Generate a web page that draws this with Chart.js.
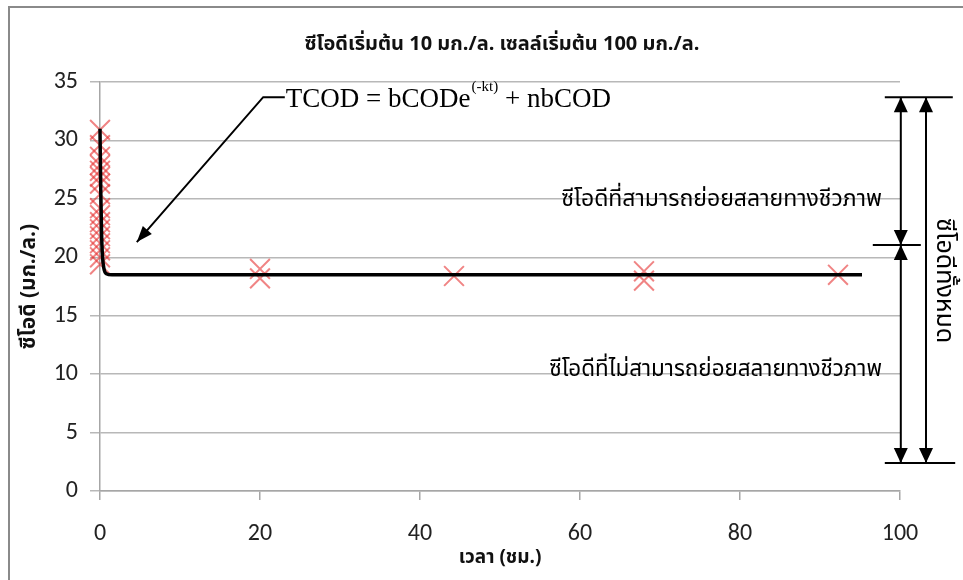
<!DOCTYPE html>
<html>
<head>
<meta charset="utf-8">
<title>COD</title>
<script src="https://cdn.jsdelivr.net/npm/chart.js@4.4.0/dist/chart.umd.min.js"></script>
<style>
  html, body { margin: 0; padding: 0; background: #fff; }
  canvas { display: block; }
</style>
</head>
<body>
<canvas id="chart" width="963" height="580"></canvas>
<script>
// measured COD (mg/L) vs time (h)
const obsTime = [0, 0, 0, 0, 0, 0, 0, 0, 0, 0, 0, 0, 0, 0, 0, 0, 0, 20, 20, 44.25, 68, 68, 92.25];
const obsCod = [30.9, 29.6, 28.6, 27.9, 27.4, 26.9, 26.3, 25.4, 24.2, 23.6, 23.0, 22.4, 21.8, 21.2, 20.6, 20.0, 19.4, 19.0, 18.2, 18.4, 18.8, 18.0, 18.5];

// fitted curve TCOD = bCODe^(-kt) + nbCOD
const fitTime = [0, 0.05, 0.1, 0.2, 0.3, 0.5, 0.8, 1.5, 95.25];
const fitCod = [31, 28, 25.5, 22, 20.2, 19, 18.6, 18.5, 18.5];

const xTicks = [0, 20, 40, 60, 80, 100];
const yTicks = [0, 5, 10, 15, 20, 25, 30, 35];

const chartTitle = "ซีโอดีเริ่มต้น 10 มก./ล. เซลล์เริ่มต้น 100 มก./ล.";

const thaiFont = "Tahoma, 'Noto Sans Thai', 'Noto Sans', 'DejaVu Sans', sans-serif";
const tickFont = "Carlito, Lato, 'Open Sans', sans-serif";

// annotation positions in data units
const eqStart = { x: 23.1, y: 33.7 };
const eqElbow = { x: 20.4, y: 33.7 };
const eqTip = { x: 4.6, y: 21.3 };
const bracketTop = 33.7;
const bracketMid = 21.05;
const bracketBottom = 2.4;

const toPts = (xs, ys) => xs.map((x, i) => ({ x: x, y: ys[i] }));

function arrowHead(ctx, tx, ty, fx, fy, len, half) {
  const a = Math.atan2(ty - fy, tx - fx);
  ctx.beginPath();
  ctx.moveTo(tx, ty);
  ctx.lineTo(tx - len * Math.cos(a) + half * Math.sin(a), ty - len * Math.sin(a) - half * Math.cos(a));
  ctx.lineTo(tx - len * Math.cos(a) - half * Math.sin(a), ty - len * Math.sin(a) + half * Math.cos(a));
  ctx.closePath();
  ctx.fill();
}

const notes = {
  id: "notes",
  beforeDraw(chart) {
    const c = chart.ctx;
    c.save();
    c.fillStyle = "#fff";
    c.fillRect(0, 0, chart.width, chart.height);
    // frame
    c.strokeStyle = "#8a8a8a";
    c.lineWidth = 2;
    c.beginPath();
    c.moveTo(9, chart.height);
    c.lineTo(9, 7);
    c.lineTo(chart.width, 7);
    c.stroke();
    // title, sits a bit right of the plot centre like the original
    c.fillStyle = "#111";
    c.font = "bold 20px " + thaiFont;
    c.textAlign = "center";
    c.textBaseline = "middle";
    c.fillText(chartTitle, 502, 46);
    c.restore();
  },
  afterDatasetsDraw(chart) {
    const c = chart.ctx;
    const xs = chart.scales.x, ys = chart.scales.y;
    const px = (v) => xs.getPixelForValue(v);
    const py = (v) => ys.getPixelForValue(v);
    c.save();
    c.strokeStyle = "#000";
    c.fillStyle = "#000";

    // equation with pointer
    c.lineWidth = 2;
    c.beginPath();
    c.moveTo(px(eqStart.x), py(eqStart.y));
    c.lineTo(px(eqElbow.x), py(eqElbow.y));
    c.lineTo(px(eqTip.x), py(eqTip.y));
    c.stroke();
    arrowHead(c, px(eqTip.x), py(eqTip.y), px(eqElbow.x), py(eqElbow.y), 16, 6);

    let tx = px(eqStart.x) + 1;
    const base = py(eqStart.y) + 10;
    c.textBaseline = "alphabetic";
    c.textAlign = "left";
    c.font = "27px 'Liberation Serif', 'Times New Roman', serif";
    let s = "TCOD = bCODe";
    c.fillText(s, tx, base);
    tx += c.measureText(s).width + 1;
    c.font = "15px 'Liberation Serif', 'Times New Roman', serif";
    s = "(-kt)";
    c.fillText(s, tx, base - 16);
    tx += c.measureText(s).width;
    c.font = "27px 'Liberation Serif', 'Times New Roman', serif";
    c.fillText(" + nbCOD", tx, base);

    // region labels
    c.font = "23px " + thaiFont;
    c.textAlign = "right";
    c.textBaseline = "middle";
    c.fillText("ซีโอดีที่สามารถย่อยสลายทางชีวภาพ", px(97.75), py(24.8));
    c.font = "22.4px " + thaiFont;
    c.fillText("ซีโอดีที่ไม่สามารถย่อยสลายทางชีวภาพ", px(97.75), py(10.2));

    // brackets on the right
    const l1 = px(100.1), l2 = px(103.25);
    c.lineWidth = 2;
    c.beginPath();
    c.moveTo(px(98.1), py(bracketTop)); c.lineTo(px(106.6), py(bracketTop));
    c.moveTo(px(96.6), py(bracketMid)); c.lineTo(px(102.6), py(bracketMid));
    c.moveTo(px(98.1), py(bracketBottom)); c.lineTo(px(106.9), py(bracketBottom));
    c.moveTo(l1, py(bracketTop)); c.lineTo(l1, py(bracketBottom));
    c.moveTo(l2, py(bracketTop)); c.lineTo(l2, py(bracketBottom));
    c.stroke();
    const hl = 15, hw = 7;
    arrowHead(c, l1, py(bracketTop), l1, py(bracketMid), hl, hw);
    arrowHead(c, l1, py(bracketMid), l1, py(bracketTop), hl, hw);
    arrowHead(c, l1, py(bracketMid), l1, py(bracketBottom), hl, hw);
    arrowHead(c, l1, py(bracketBottom), l1, py(bracketMid), hl, hw);
    arrowHead(c, l2, py(bracketTop), l2, py(bracketBottom), hl, hw);
    arrowHead(c, l2, py(bracketBottom), l2, py(bracketTop), hl, hw);

    // total COD, rotated
    c.translate(px(105.2), py(18));
    c.rotate(Math.PI / 2);
    c.textAlign = "center";
    c.font = "25px " + thaiFont;
    c.fillText("ซีโอดีทั้งหมด", 0, 0);
    c.restore();
  }
};

const ctx = document.getElementById("chart").getContext("2d");
const chart = new Chart(ctx, {
  type: "scatter",
  data: {
    datasets: [
      {
        label: "fit",
        data: toPts(fitTime, fitCod),
        showLine: true,
        borderColor: "#000",
        borderWidth: 3.5,
        pointRadius: 0,
        cubicInterpolationMode: "monotone",
        clip: false,
        order: 0,
      },
      {
        label: "COD",
        data: toPts(obsTime, obsCod),
        pointStyle: "crossRot",
        pointRadius: 14,
        borderColor: "rgba(230, 50, 50, 0.6)",
        borderWidth: 2,
        clip: false,
        order: 1,
      },
    ],
  },
  options: {
    responsive: false,
    animation: false,
    layout: { padding: { left: 10, right: 63, top: 82, bottom: 8 } },
    plugins: {
      legend: { display: false },
      tooltip: { enabled: false },
      title: { display: false },
    },
    scales: {
      x: {
        type: "linear",
        min: 0,
        max: 100,
        afterFit: (s) => { s.height = 81; },
        afterBuildTicks: (s) => { s.ticks = xTicks.map((v) => ({ value: v })); },
        border: { color: "#a6a6a6", width: 1.5 },
        grid: { drawOnChartArea: false, tickLength: 9, color: "#a6a6a6", lineWidth: 1.5 },
        ticks: { font: { family: tickFont, size: 24 }, color: "#222", padding: 20 },
        title: {
          display: true,
          text: "เวลา (ชม.)",
          font: { family: thaiFont, size: 19, weight: "bold" },
          color: "#111",
          padding: { top: 0, bottom: 1 },
        },
      },
      y: {
        min: 0,
        max: 35,
        afterFit: (s) => { s.width = 90; },
        afterBuildTicks: (s) => { s.ticks = yTicks.map((v) => ({ value: v })); },
        border: { color: "#a6a6a6", width: 1.5 },
        grid: { color: "#b8b8b8", lineWidth: 1.5, tickLength: 10 },
        ticks: { font: { family: tickFont, size: 24 }, color: "#222", padding: 12 },
        title: {
          display: true,
          text: "ซีโอดี (มก./ล.)",
          font: { family: thaiFont, size: 21, weight: "bold" },
          color: "#111",
          padding: { top: 8, bottom: 0 },
        },
      },
    },
  },
  plugins: [notes],
});
</script>
</body>
</html>
